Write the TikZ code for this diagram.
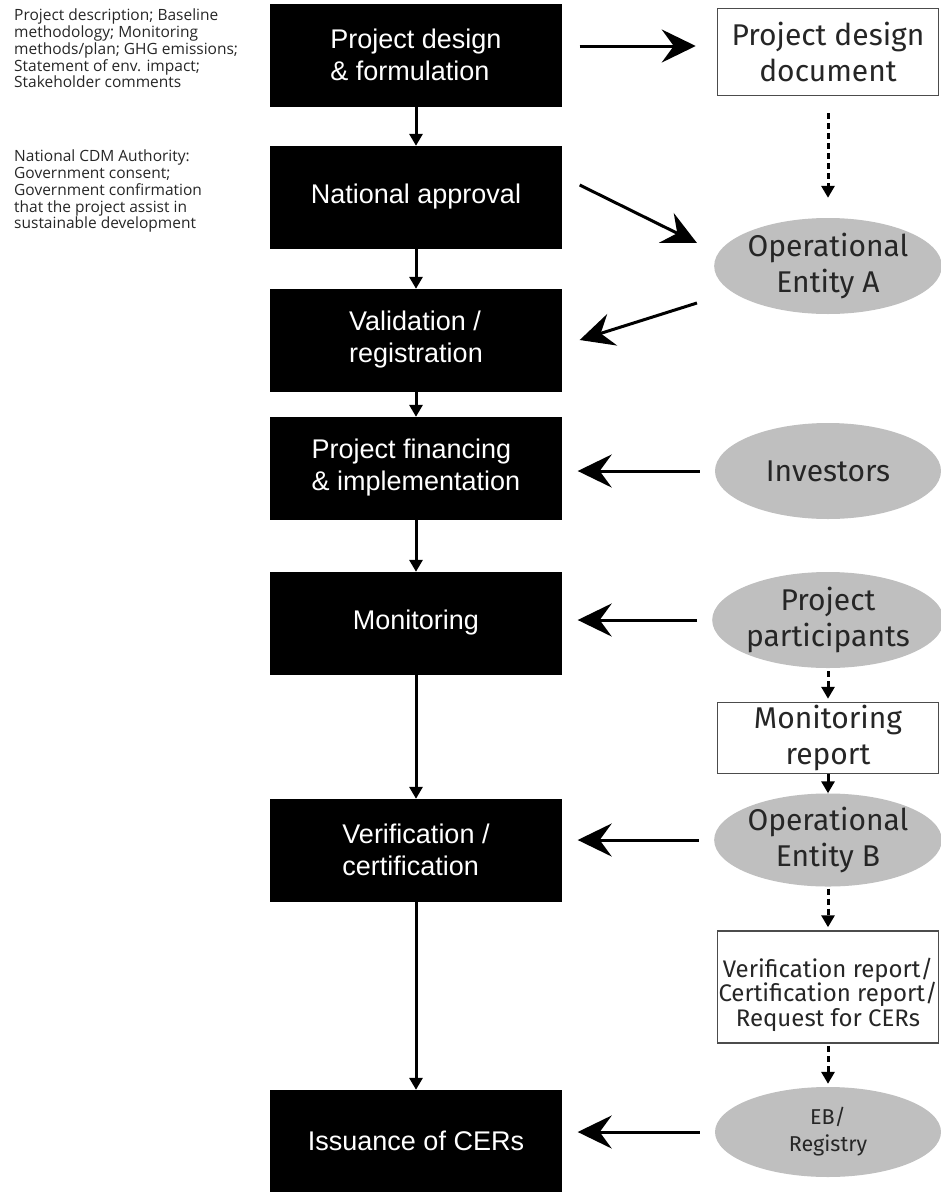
\documentclass[tikz,border=0pt]{standalone}
\usepackage{fontspec}
\usetikzlibrary{arrows.meta, shapes.geometric, calc}
\newfontfamily\stagefont{Liberation Sans}
\newfontfamily\notefont{Fira Sans}
\newfontfamily\sidefont{Open Sans}

\begin{document}
\begin{tikzpicture}[x=1pt, y=-1pt,
    stage/.style={draw=black, fill=black, text=white, minimum width=291pt,
        minimum height=102pt, inner sep=0pt, align=left,
        font=\stagefont\fontsize{27}{32}\selectfont},
    doc/.style={draw=black!70, line width=1.5pt, fill=white, minimum width=221pt,
        inner sep=0pt, align=center, text=black!85,
        font=\notefont\fontsize{30}{36}\selectfont},
    actor/.style={ellipse, fill=black!25, minimum width=226pt, minimum height=96pt,
        inner sep=0pt, align=center, text=black!85,
        font=\notefont\fontsize{30}{36}\selectfont},
    note/.style={anchor=north west, inner sep=0pt, align=left, text=black!85,
        font=\sidefont\fontsize{15.5}{16.7}\selectfont},
    flow/.style={-{Triangle[length=12pt,width=13pt]}, line width=3pt},
    feed/.style={-{Stealth[length=34pt,width=33pt,inset=12pt]}, line width=3pt},
    dotflow/.style={flow, dash pattern=on 6pt off 4pt}]

            \useasboundingbox (0,0) rectangle (941,1192);

            % draw the notes on the left
            \node[note] (pddnote) at (14,9) {Project description; Baseline\\methodology; Monitoring\\methods/plan; GHG emissions;\\Statement of env. impact;\\Stakeholder comments};
            \node[note] (cdmnote) at (14,150) {National CDM Authority:\\Government consent;\\Government confirmation\\that the project assist in\\sustainable development};

            % draw the main steps
            \node[stage] (design) at (416,55) {Project design\\\& formulation};
            \node[stage] (approval) at (416,197) {National approval};
            \node[stage] (valid) at (416,340) {Validation /\\registration};
            \node[stage] (finance) at (416,468) {Project financing\\\& implementation};
            \node[stage] (monitor) at (416,623) {Monitoring};
            \node[stage] (verify) at (416,850) {Verification /\\certification};
            \node[stage] (issue) at (416,1141) {Issuance of CERs};

            % draw the documents and actors on the right
            \node[doc, minimum height=87pt] (pdd) at (828,52) {Project design\\document};
            \node[actor] (entA) at (828,266) {Operational\\Entity A};
            \node[actor] (invest) at (828,471) {Investors};
            \node[actor] (partic) at (828,620) {Project\\participants};
            \node[doc, minimum height=71pt] (mreport) at (828,738) {Monitoring\\report};
            \node[actor, minimum height=88pt] (entB) at (828,840) {Operational\\Entity B};
            \node[doc, minimum height=112pt, text height=84pt, font=\notefont\fontsize{24}{24.5}\selectfont] (vreport) at (828,987) {Verification report/\\Certification report/\\Request for CERs};
            \node[actor, minimum height=90pt, font=\notefont\fontsize{21.5}{27}\selectfont] (registry) at (828,1132) {EB/\\Registry};

            % draw the arrows down the main column
            \foreach \a/\b in {design/approval, approval/valid, valid/finance, finance/monitor, monitor/verify, verify/issue}
                \draw[flow] (\a) -- (\b);

            % draw the big arrows between the columns
            \draw[feed] ($(design.east)+(18,-9)$) -- ($(pdd.west |- design.east)+(-21,-9)$);
            \draw[feed] ($(approval.east)+(18,-12)$) -- ($(entA.west)+(-17,-23)$);
            \draw[feed] ($(entA.west)+(-17,37)$) -- ($(valid.east)+(18,0)$);
            \draw[feed, shorten <=15pt, shorten >=16pt] (invest.west) -- (invest.west -| finance.east);
            \draw[feed, shorten <=15pt, shorten >=16pt] (partic.west) -- (partic.west -| monitor.east);
            \draw[feed, shorten <=15pt, shorten >=16pt] (entB.west) -- (entB.west -| verify.east);
            \draw[feed, shorten <=15pt, shorten >=16pt] (registry.west) -- (registry.west -| issue.east);

            % draw the arrows down the right column
            \draw[dotflow, shorten <=17pt, shorten >=20pt] (pdd) -- (entA);
            \draw[dotflow, shorten <=3pt, shorten >=3pt] (partic) -- (mreport);
            \draw[flow] (mreport) -- (entB);
            \draw[dotflow, shorten <=2pt, shorten >=3pt] (entB) -- (vreport);
            \draw[dotflow, shorten <=2pt, shorten >=3pt] (vreport) -- (registry);
\end{tikzpicture}
\end{document}
